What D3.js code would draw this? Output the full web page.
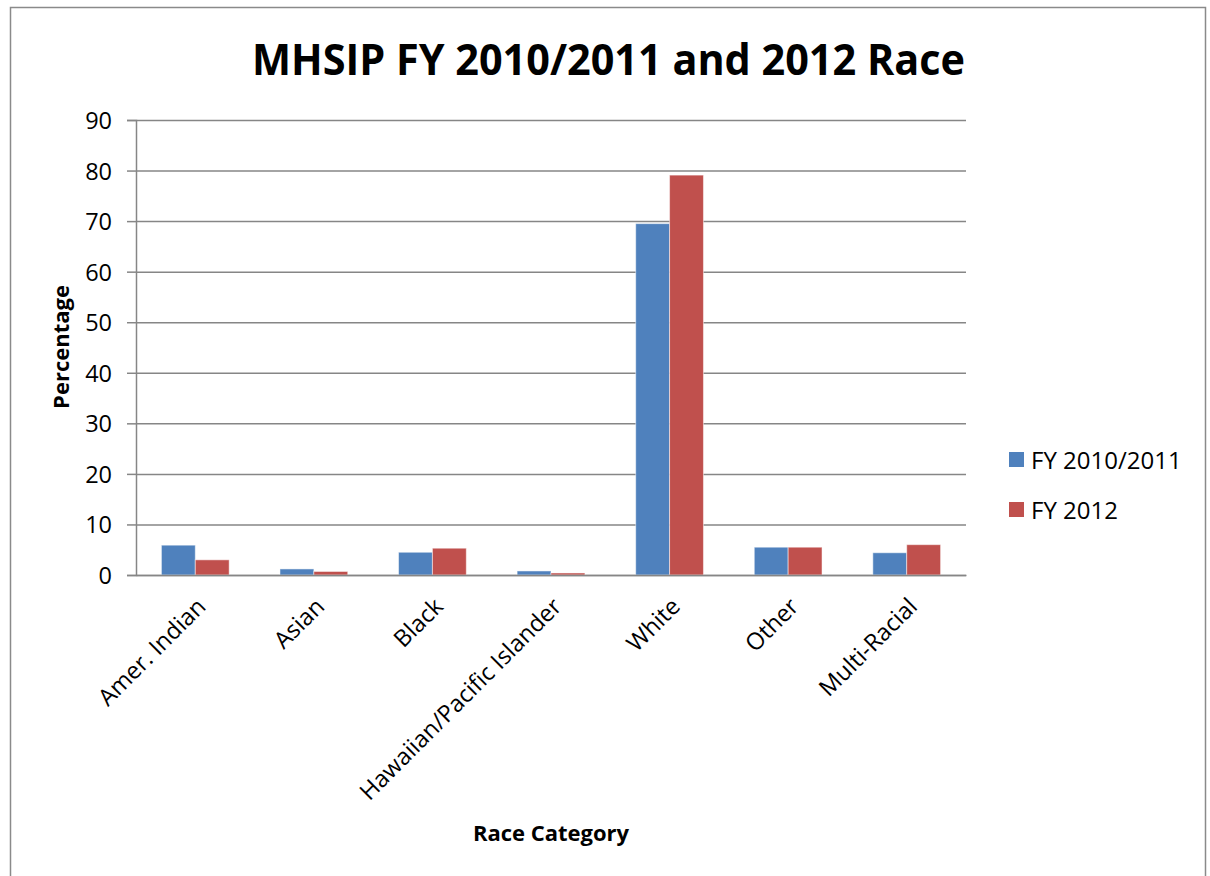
<!DOCTYPE html>
<html>
<head>
    <title>MHSIP Race</title>
    <script src="https://d3js.org/d3.v7.min.js"></script>
    <style>
        body, html {
            margin: 0;
            padding: 0;
            background: #fff;
            overflow: hidden;
        }
        svg {
            display: block;
            font-family: "Open Sans", sans-serif;
        }
    </style>
</head>
<body>
    <svg id="chart" width="1210" height="876"></svg>

    <script>
        // chart data
        const categories = ["Amer. Indian", "Asian", "Black", "Hawaiian/Pacific Islander", "White", "Other", "Multi-Racial"];
        const seriesNames = ["FY 2010/2011", "FY 2012"];
        const fy2010 = [5.9, 1.2, 4.5, 0.8, 69.5, 5.5, 4.4];
        const fy2012 = [3.0, 0.7, 5.3, 0.4, 79.1, 5.5, 6.0];
        const yTicks = [0, 10, 20, 30, 40, 50, 60, 70, 80, 90];

        const colors = ["#4F81BD", "#C0504D"];
        const seriesValues = [fy2010, fy2012];

        const svg = d3.select("#chart");

        // plot area
        const plotLeft = 136, plotRight = 966, plotTop = 120, plotBottom = 575;

        // outer frame
        svg.append("rect")
            .attr("x", 10.5)
            .attr("y", 7.5)
            .attr("width", 1195)
            .attr("height", 900)
            .attr("fill", "none")
            .attr("stroke", "#8a8a8a")
            .attr("stroke-width", 1.5);

        const y = d3.scaleLinear()
            .domain([0, 90])
            .range([plotBottom, plotTop]);

        const x0 = d3.scaleBand()
            .domain(categories)
            .range([plotLeft, plotRight])
            .paddingInner(1.5 / 3.5)
            .paddingOuter(0.75 / 3.5);

        const x1 = d3.scaleBand()
            .domain(seriesNames)
            .range([0, x0.bandwidth()]);

        // gridlines
        const grid = svg.append("g")
            .attr("transform", `translate(${plotLeft},0)`)
            .call(d3.axisLeft(y).tickValues(yTicks).tickSize(-(plotRight - plotLeft)).tickFormat(""));
        grid.select(".domain").remove();
        grid.selectAll("line").attr("stroke", "#868686").attr("stroke-width", 1.5);

        // bars
        const groups = svg.selectAll(".group")
            .data(categories)
            .enter().append("g")
            .attr("class", "group")
            .attr("transform", d => `translate(${x0(d)},0)`);

        groups.selectAll("rect")
            .data((d, i) => seriesNames.map((s, j) => ({ series: s, value: seriesValues[j][i], idx: j })))
            .enter().append("rect")
            .attr("x", d => x1(d.series))
            .attr("y", d => y(d.value))
            .attr("width", x1.bandwidth())
            .attr("height", d => plotBottom - y(d.value))
            .attr("fill", d => colors[d.idx])
            .attr("stroke", "#ffffff")
            .attr("stroke-opacity", 0.5)
            .attr("stroke-width", 1);

        // y axis
        const yAxis = svg.append("g")
            .attr("transform", `translate(${plotLeft},0)`)
            .call(d3.axisLeft(y).tickValues(yTicks).tickSize(9).tickPadding(15));
        yAxis.attr("font-family", "Open Sans, sans-serif").attr("font-size", 23.5);
        yAxis.select(".domain").attr("stroke", "#868686").attr("stroke-width", 1.5);
        yAxis.selectAll(".tick line").attr("stroke", "#868686").attr("stroke-width", 1.5);
        yAxis.selectAll(".tick text").attr("dy", "0.36em").attr("fill", "#000");

        // x axis
        const xAxis = svg.append("g")
            .attr("transform", `translate(0,${plotBottom})`)
            .call(d3.axisBottom(x0).tickSize(0).tickFormat(""));
        xAxis.select(".domain").attr("stroke", "#868686").attr("stroke-width", 1.5);

        svg.selectAll(".xlabel")
            .data(categories)
            .enter().append("text")
            .attr("class", "xlabel")
            .attr("text-anchor", "end")
            .attr("font-size", 23.5)
            .attr("transform", d => `translate(${x0(d) + x0.bandwidth() / 2 + 12},${plotBottom + 33}) rotate(-45)`)
            .text(d => d);

        // title
        svg.append("text")
            .attr("x", 608.5)
            .attr("y", 75)
            .attr("text-anchor", "middle")
            .attr("font-size", 43)
            .attr("font-weight", "bold")
            .attr("textLength", 713)
            .attr("lengthAdjust", "spacingAndGlyphs")
            .text("MHSIP FY 2010/2011 and 2012 Race");

        // axis titles
        svg.append("text")
            .attr("transform", "translate(69,347) rotate(-90)")
            .attr("text-anchor", "middle")
            .attr("font-size", 22)
            .attr("font-weight", "bold")
            .text("Percentage");

        svg.append("text")
            .attr("x", (plotLeft + plotRight) / 2)
            .attr("y", 841)
            .attr("text-anchor", "middle")
            .attr("font-size", 22)
            .attr("font-weight", "bold")
            .text("Race Category");

        // legend
        const legend = svg.selectAll(".legend-item")
            .data(seriesNames)
            .enter().append("g")
            .attr("class", "legend-item")
            .attr("transform", (d, i) => `translate(1009,${452 + i * 50})`);

        legend.append("rect")
            .attr("width", 15)
            .attr("height", 15)
            .attr("fill", (d, i) => colors[i]);

        legend.append("text")
            .attr("x", 22)
            .attr("y", 17)
            .attr("font-size", 24)
            .text(d => d);
    </script>
</body>
</html>
